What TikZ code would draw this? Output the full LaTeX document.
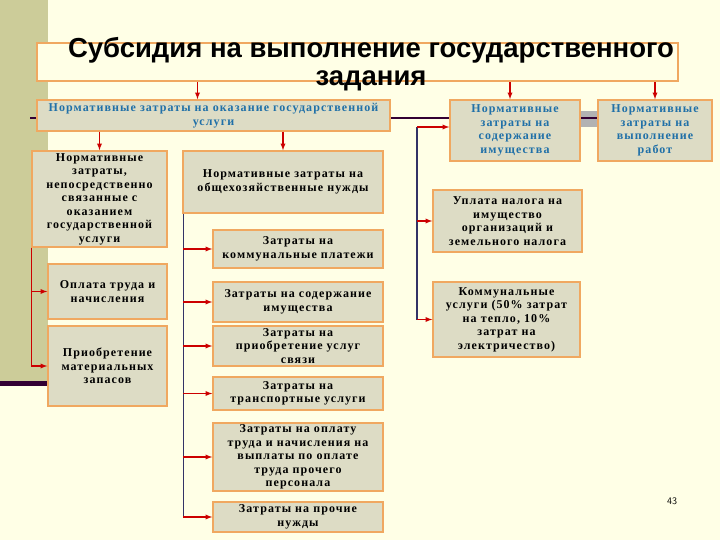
\documentclass[tikz,border=0pt]{standalone}
\usepackage{fontspec}
\setmainfont{Liberation Serif}
\newfontfamily\boxfont[LetterSpace=9]{Liberation Serif}
\newfontfamily\titlefont{Liberation Sans}
\usetikzlibrary{calc}
\usetikzlibrary{arrows.meta}

\definecolor{bgcol}{HTML}{FFFFE6}
\definecolor{stripcol}{HTML}{CCCC99}
\definecolor{boxfill}{HTML}{DDDCC5}
\definecolor{boxline}{HTML}{F0A860}
\definecolor{arrred}{HTML}{CC0000}
\definecolor{trunkcol}{HTML}{333366}
\definecolor{bluetext}{HTML}{2070A8}
\definecolor{darkline}{HTML}{330033}

\tikzset{
    box/.style={draw=boxline, fill=boxfill, line width=1.5pt, inner sep=1pt, align=center,
        font=\boxfont\bfseries\fontsize{12}{13.5}\selectfont},
    bluebox/.style={box, text=bluetext},
    titletext/.style={font=\titlefont\bfseries\fontsize{27.5}{28}\selectfont, inner sep=0pt, anchor=base},
    redarr/.style={arrred, line width=1.3pt, -latex},
    trunk/.style={trunkcol, line width=1.1pt},
}

\begin{document}
\begin{tikzpicture}[x=1pt, y=-1pt]

    \fill[bgcol] (0, 0) rectangle (720, 540);
    \useasboundingbox (0, 0) rectangle (720, 540);
    \fill[stripcol] (0, 0) rectangle (48, 383);
    \fill[darkline] (0, 381) rectangle (48, 386);
    \fill[gray!60] (580, 111) rectangle (598, 127);
    \draw[darkline, line width=1.8pt] (30, 118) -- (598, 118);

    \node[draw=boxline, fill=bgcol, line width=2.2pt, minimum width=641pt, minimum height=38pt] (T) at (357.5, 62) {};
    \node[titletext] (T1) at (371, 58) {Субсидия на выполнение государственного};
    \node[titletext] (T2) at (371, 86) {задания};

    \node[bluebox, minimum width=353pt, minimum height=31pt] (A) at (213.5, 115.5) {Нормативные затраты на оказание государственной\\услуги};
    \node[bluebox, minimum width=130pt, minimum height=61pt] (B) at (515, 130.5) {Нормативные\\затраты на\\содержание\\имущества};
    \node[bluebox, minimum width=114pt, minimum height=61pt] (C) at (655, 130.5) {Нормативные\\затраты на\\выполнение\\работ};

    \node[box, minimum width=135pt, minimum height=96pt] (D) at (99.5, 199) {Нормативные\\затраты,\\непосредственно\\связанные с\\оказанием\\государственной\\услуги};
    \node[box, minimum width=200pt, minimum height=62pt] (E) at (283, 182) {Нормативные затраты на\\общехозяйственные нужды};
    \node[box, minimum width=119pt, minimum height=55pt] (F) at (107.5, 291.5) {Оплата труда и\\начисления};
    \node[box, minimum width=119pt, minimum height=80pt] (G) at (107.5, 366) {Приобретение\\материальных\\запасов};

    \node[box, minimum width=170pt, minimum height=38pt] (H) at (298, 249) {Затраты на\\коммунальные платежи};
    \node[box, minimum width=170pt, minimum height=40pt] (I) at (298, 302) {Затраты на содержание\\имущества};
    \node[box, minimum width=170pt, minimum height=40pt] (J) at (298, 346) {Затраты на\\приобретение услуг\\связи};
    \node[box, minimum width=170pt, minimum height=33pt] (K) at (298, 393.5) {Затраты на\\транспортные услуги};
    \node[box, minimum width=170pt, minimum height=68pt] (L) at (298, 457) {Затраты на оплату\\труда и начисления на\\выплаты по оплате\\труда прочего\\персонала};
    \node[box, minimum width=170pt, minimum height=30pt] (M) at (298, 517) {Затраты на прочие\\нужды};

    \node[box, minimum width=149pt, minimum height=62pt] (N) at (507.5, 221) {Уплата налога на\\имущество\\организаций и\\земельного налога};
    \node[box, minimum width=147pt, minimum height=75pt] (O) at (506.5, 319.5) {Коммунальные\\услуги (50\% затрат\\на тепло, 10\%\\затрат на\\электричество)};

    \node[font=\sffamily\fontsize{10}{12}\selectfont] (pg) at (672, 501) {43};

    % from the title
    \draw[redarr] ([xshift=-16pt]A.north |- T.south) -- ([xshift=-16pt]A.north);
    \draw[redarr] ([xshift=-5pt]B.north |- T.south) -- ([xshift=-5pt]B.north);
    \draw[redarr] (C.north |- T.south) -- (C.north);

    \draw[redarr] (D.north |- A.south) -- (D.north);
    \draw[redarr] (E.north |- A.south) -- (E.north);

    % left column
    \draw[redarr] (D.south west) |- (F.west);
    \draw[redarr] (D.south west) |- (G.west);

    % middle column
    \draw[trunk] ([xshift=1pt]E.south west) -- ([xshift=1pt]E.south west |- M.west);
    \foreach \n in {H, I, J, K, L, M}
        \draw[redarr] ([xshift=1pt]E.south west |- \n.west) -- (\n.west);

    % right column
    \coordinate (bt) at (417, 127);
    \draw[trunk] (bt) -- (bt |- O.west);
    \draw[redarr] (bt) -- (bt -| B.west);
    \draw[redarr] (bt |- N.west) -- (N.west);
    \draw[redarr] (bt |- O.west) -- (O.west);

\end{tikzpicture}
\end{document}
